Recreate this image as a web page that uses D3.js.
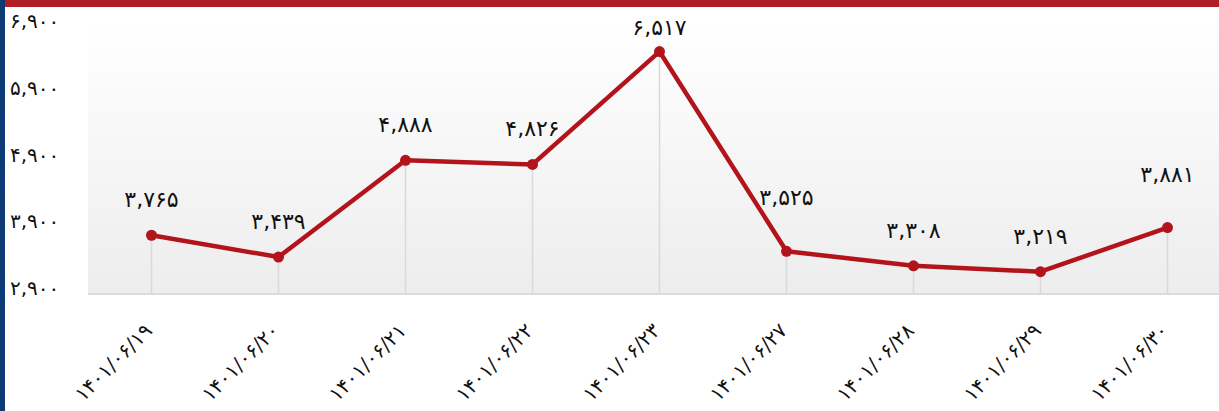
<!DOCTYPE html>
<html>
<head>
<meta charset="utf-8">
<script src="https://cdn.jsdelivr.net/npm/d3@7"></script>
<style>
  body { margin: 0; background: #fff; }
  text { font-family: "DejaVu Sans", sans-serif; fill: #111; }
</style>
</head>
<body>
<div id="chart"></div>
<script>
// dates (solar hijri) and daily values
let dates = ["1401/06/19", "1401/06/20", "1401/06/21", "1401/06/22", "1401/06/23", "1401/06/27", "1401/06/28", "1401/06/29", "1401/06/30"];
let values = [3765, 3439, 4888, 4826, 6517, 3525, 3308, 3219, 3881];
let yTicks = [2900, 3900, 4900, 5900, 6900];

// labels that sit higher above their point (as in the original)
let raised = [5, 8];

let W = 1219, H = 411;

// persian digits
let fa = function(s){
    return String(s).replace(/[0-9]/g, function(c){ return "۰۱۲۳۴۵۶۷۸۹"[+c]; });
};
let fmt = function(v){ return fa(d3.format(",")(v)); };

let svg = d3.select("#chart").append("svg")
    .attr("width", W)
    .attr("height", H);

let defs = svg.append("defs");
let grad = defs.append("linearGradient")
    .attr("id", "bg")
    .attr("x1", 0).attr("y1", 0).attr("x2", 0).attr("y2", 1);
grad.append("stop").attr("offset", "0%").attr("stop-color", "#ffffff");
grad.append("stop").attr("offset", "100%").attr("stop-color", "#ededed");

let stripes = defs.append("pattern")
    .attr("id", "stripes")
    .attr("width", 4).attr("height", 4)
    .attr("patternUnits", "userSpaceOnUse")
    .attr("patternTransform", "rotate(45)");
stripes.append("rect").attr("width", 4).attr("height", 4).attr("fill", "#0b3870");
stripes.append("rect").attr("width", 2).attr("height", 4).attr("fill", "#0d3d78");

let x = d3.scaleBand().domain(dates).range([88, 1231]);
let y = d3.scaleLinear().domain([2900, 6900]).range([293, 26]);

let left = 88, bottom = 293;

// plot background
svg.append("rect")
    .attr("x", left).attr("y", 20)
    .attr("width", W - left).attr("height", bottom - 20)
    .attr("fill", "url(#bg)");

// frame bars
svg.append("rect").attr("x", 0).attr("y", 0).attr("width", W).attr("height", 7).attr("fill", "#b01d25");
svg.append("rect").attr("x", 0).attr("y", 0).attr("width", 5).attr("height", H).attr("fill", "url(#stripes)");

let cx = function(d){ return x(d) + x.bandwidth() / 2; };

// drop lines
svg.selectAll(".drop")
    .data(dates)
    .enter()
    .append("line")
    .attr("class", "drop")
    .attr("x1", cx).attr("x2", cx)
    .attr("y1", function(d, i){ return y(values[i]); })
    .attr("y2", bottom)
    .attr("stroke", "#d9d9d9")
    .attr("stroke-width", 1.5);

// baseline
svg.append("line")
    .attr("x1", left).attr("x2", W)
    .attr("y1", bottom + 1).attr("y2", bottom + 1)
    .attr("stroke", "#dcdcdc")
    .attr("stroke-width", 2);

// y tick labels
svg.selectAll(".ytick")
    .data(yTicks)
    .enter()
    .append("text")
    .attr("class", "ytick")
    .attr("x", 10)
    .attr("y", function(d){ return y(d) + 2; })
    .attr("text-anchor", "start")
    .style("font-size", "20px")
    .text(fmt);

// line
let line = d3.line()
    .x(function(d, i){ return cx(dates[i]); })
    .y(function(d){ return y(d); });

svg.append("path")
    .datum(values)
    .attr("fill", "none")
    .attr("stroke", "#b3141c")
    .attr("stroke-width", 4.5)
    .attr("stroke-linejoin", "round")
    .attr("d", line);

svg.selectAll(".dot")
    .data(values)
    .enter()
    .append("circle")
    .attr("class", "dot")
    .attr("cx", function(d, i){ return cx(dates[i]); })
    .attr("cy", function(d){ return y(d); })
    .attr("r", 5.5)
    .attr("fill", "#b3141c");

// value labels
svg.selectAll(".vlabel")
    .data(values)
    .enter()
    .append("text")
    .attr("class", "vlabel")
    .attr("x", function(d, i){ return cx(dates[i]); })
    .attr("y", function(d, i){
        let off = raised.indexOf(i) >= 0 ? 46 : 28;
        return Math.max(y(d) - off, 35);
    })
    .attr("text-anchor", "middle")
    .style("font-size", "22px")
    .text(fmt);

// x labels
svg.selectAll(".xlabel")
    .data(dates)
    .enter()
    .append("text")
    .attr("class", "xlabel")
    .attr("transform", function(d){ return "translate(" + (cx(d) - 3) + "," + 327 + ")rotate(-45)"; })
    .attr("text-anchor", "end")
    .attr("dy", "0.35em")
    .style("font-size", "20px")
    .text(function(d){ return fa(d); });
</script>
</body>
</html>
